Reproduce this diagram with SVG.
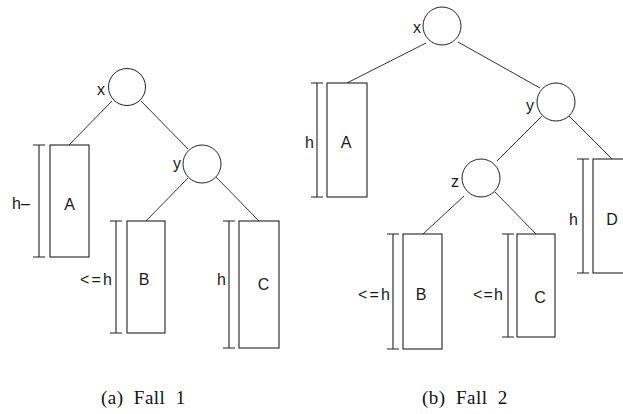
<svg xmlns="http://www.w3.org/2000/svg" width="623" height="414" viewBox="0 0 623 414">
  <style>
    .node { fill: #fff; stroke: #222; stroke-width: 1; }
    .box { fill: #fff; stroke: #222; stroke-width: 1.1; }
    .edge { stroke: #333; stroke-width: 1; fill: none; }
    .dim { stroke: #222; stroke-width: 1.1; fill: none; }
    .lbl { font-family: "Liberation Sans", Arial, sans-serif; font-size: 16px; fill: #1a1a1a; }
    .cap { font-family: "Liberation Serif", "Times New Roman", serif; font-size: 19px; letter-spacing: 0.5px; word-spacing: 5px; fill: #111; }
  </style>

  <!-- connectors -->
  <g id="edges">
    <!-- Fall 1 -->
    <line class="edge" x1="112" y1="101" x2="69" y2="145"/>
    <line class="edge" x1="141" y1="101" x2="188" y2="149"/>
    <line class="edge" x1="188" y1="178" x2="146" y2="221"/>
    <line class="edge" x1="216" y1="177" x2="259" y2="221"/>
    <!-- Fall 2 -->
    <line class="edge" x1="426" y1="43" x2="347" y2="83"/>
    <line class="edge" x1="458" y1="42" x2="540" y2="88"/>
    <line class="edge" x1="542" y1="116" x2="497" y2="161"/>
    <line class="edge" x1="569" y1="116" x2="612" y2="159"/>
    <line class="edge" x1="464" y1="196" x2="423" y2="234"/>
    <line class="edge" x1="495" y1="192" x2="536" y2="234"/>
  </g>

  <!-- Fall 1 -->
  <g id="a-x">
    <circle class="node" cx="127" cy="87" r="18.5"/>
    <text class="lbl" x="105" y="95" text-anchor="end">x</text>
  </g>
  <g id="a-y">
    <circle class="node" cx="202" cy="164" r="19"/>
    <text class="lbl" x="181" y="169" text-anchor="end">y</text>
  </g>
  <g id="a-A">
    <rect class="box" x="50" y="145" width="39" height="112"/>
    <path class="dim" d="M39 145V257M33 145H45M33 257H45"/>
    <text class="lbl" x="69.5" y="210" text-anchor="middle">A</text>
    <text class="lbl" x="12" y="209">h–</text>
  </g>
  <g id="a-B">
    <rect class="box" x="127" y="221" width="38" height="112"/>
    <path class="dim" d="M116 221V333M110 221H122M110 333H122"/>
    <text class="lbl" x="144" y="285" text-anchor="middle">B</text>
    <text class="lbl" x="112" y="285" text-anchor="end" textLength="32">&lt;=h</text>
  </g>
  <g id="a-C">
    <rect class="box" x="239" y="221" width="40" height="127"/>
    <path class="dim" d="M229 221V348M223 221H235M223 348H235"/>
    <text class="lbl" x="263.5" y="290" text-anchor="middle">C</text>
    <text class="lbl" x="226" y="285" text-anchor="end">h</text>
  </g>

  <!-- Fall 2 -->
  <g id="b-x">
    <circle class="node" cx="442" cy="26" r="19"/>
    <text class="lbl" x="421" y="33" text-anchor="end">x</text>
  </g>
  <g id="b-y">
    <circle class="node" cx="556" cy="102" r="19"/>
    <text class="lbl" x="534" y="111" text-anchor="end">y</text>
  </g>
  <g id="b-z">
    <circle class="node" cx="481" cy="178" r="19"/>
    <text class="lbl" x="459" y="187" text-anchor="end">z</text>
  </g>
  <g id="b-A">
    <rect class="box" x="327" y="83" width="40" height="114"/>
    <path class="dim" d="M317 83V197M311 83H323M311 197H323"/>
    <text class="lbl" x="346" y="148" text-anchor="middle">A</text>
    <text class="lbl" x="314" y="148" text-anchor="end">h</text>
  </g>
  <g id="b-B">
    <rect class="box" x="403" y="234" width="39" height="115"/>
    <path class="dim" d="M393 234V349M387 234H399M387 349H399"/>
    <text class="lbl" x="421" y="300" text-anchor="middle">B</text>
    <text class="lbl" x="390" y="300" text-anchor="end" textLength="32">&lt;=h</text>
  </g>
  <g id="b-C">
    <rect class="box" x="517" y="234" width="38" height="103"/>
    <path class="dim" d="M508 234V337M502 234H514M502 337H514"/>
    <text class="lbl" x="540" y="303" text-anchor="middle">C</text>
    <text class="lbl" x="503" y="300" text-anchor="end" textLength="30">&lt;=h</text>
  </g>
  <g id="b-D">
    <rect class="box" x="593" y="159" width="39" height="114"/>
    <path class="dim" d="M583 159V273M577 159H589M577 273H589"/>
    <text class="lbl" x="612" y="225" text-anchor="middle">D</text>
    <text class="lbl" x="578" y="225" text-anchor="end">h</text>
  </g>

  <!-- captions -->
  <text class="cap" x="101" y="404">(a) Fall 1</text>
  <text class="cap" x="422" y="404">(b) Fall 2</text>
</svg>
